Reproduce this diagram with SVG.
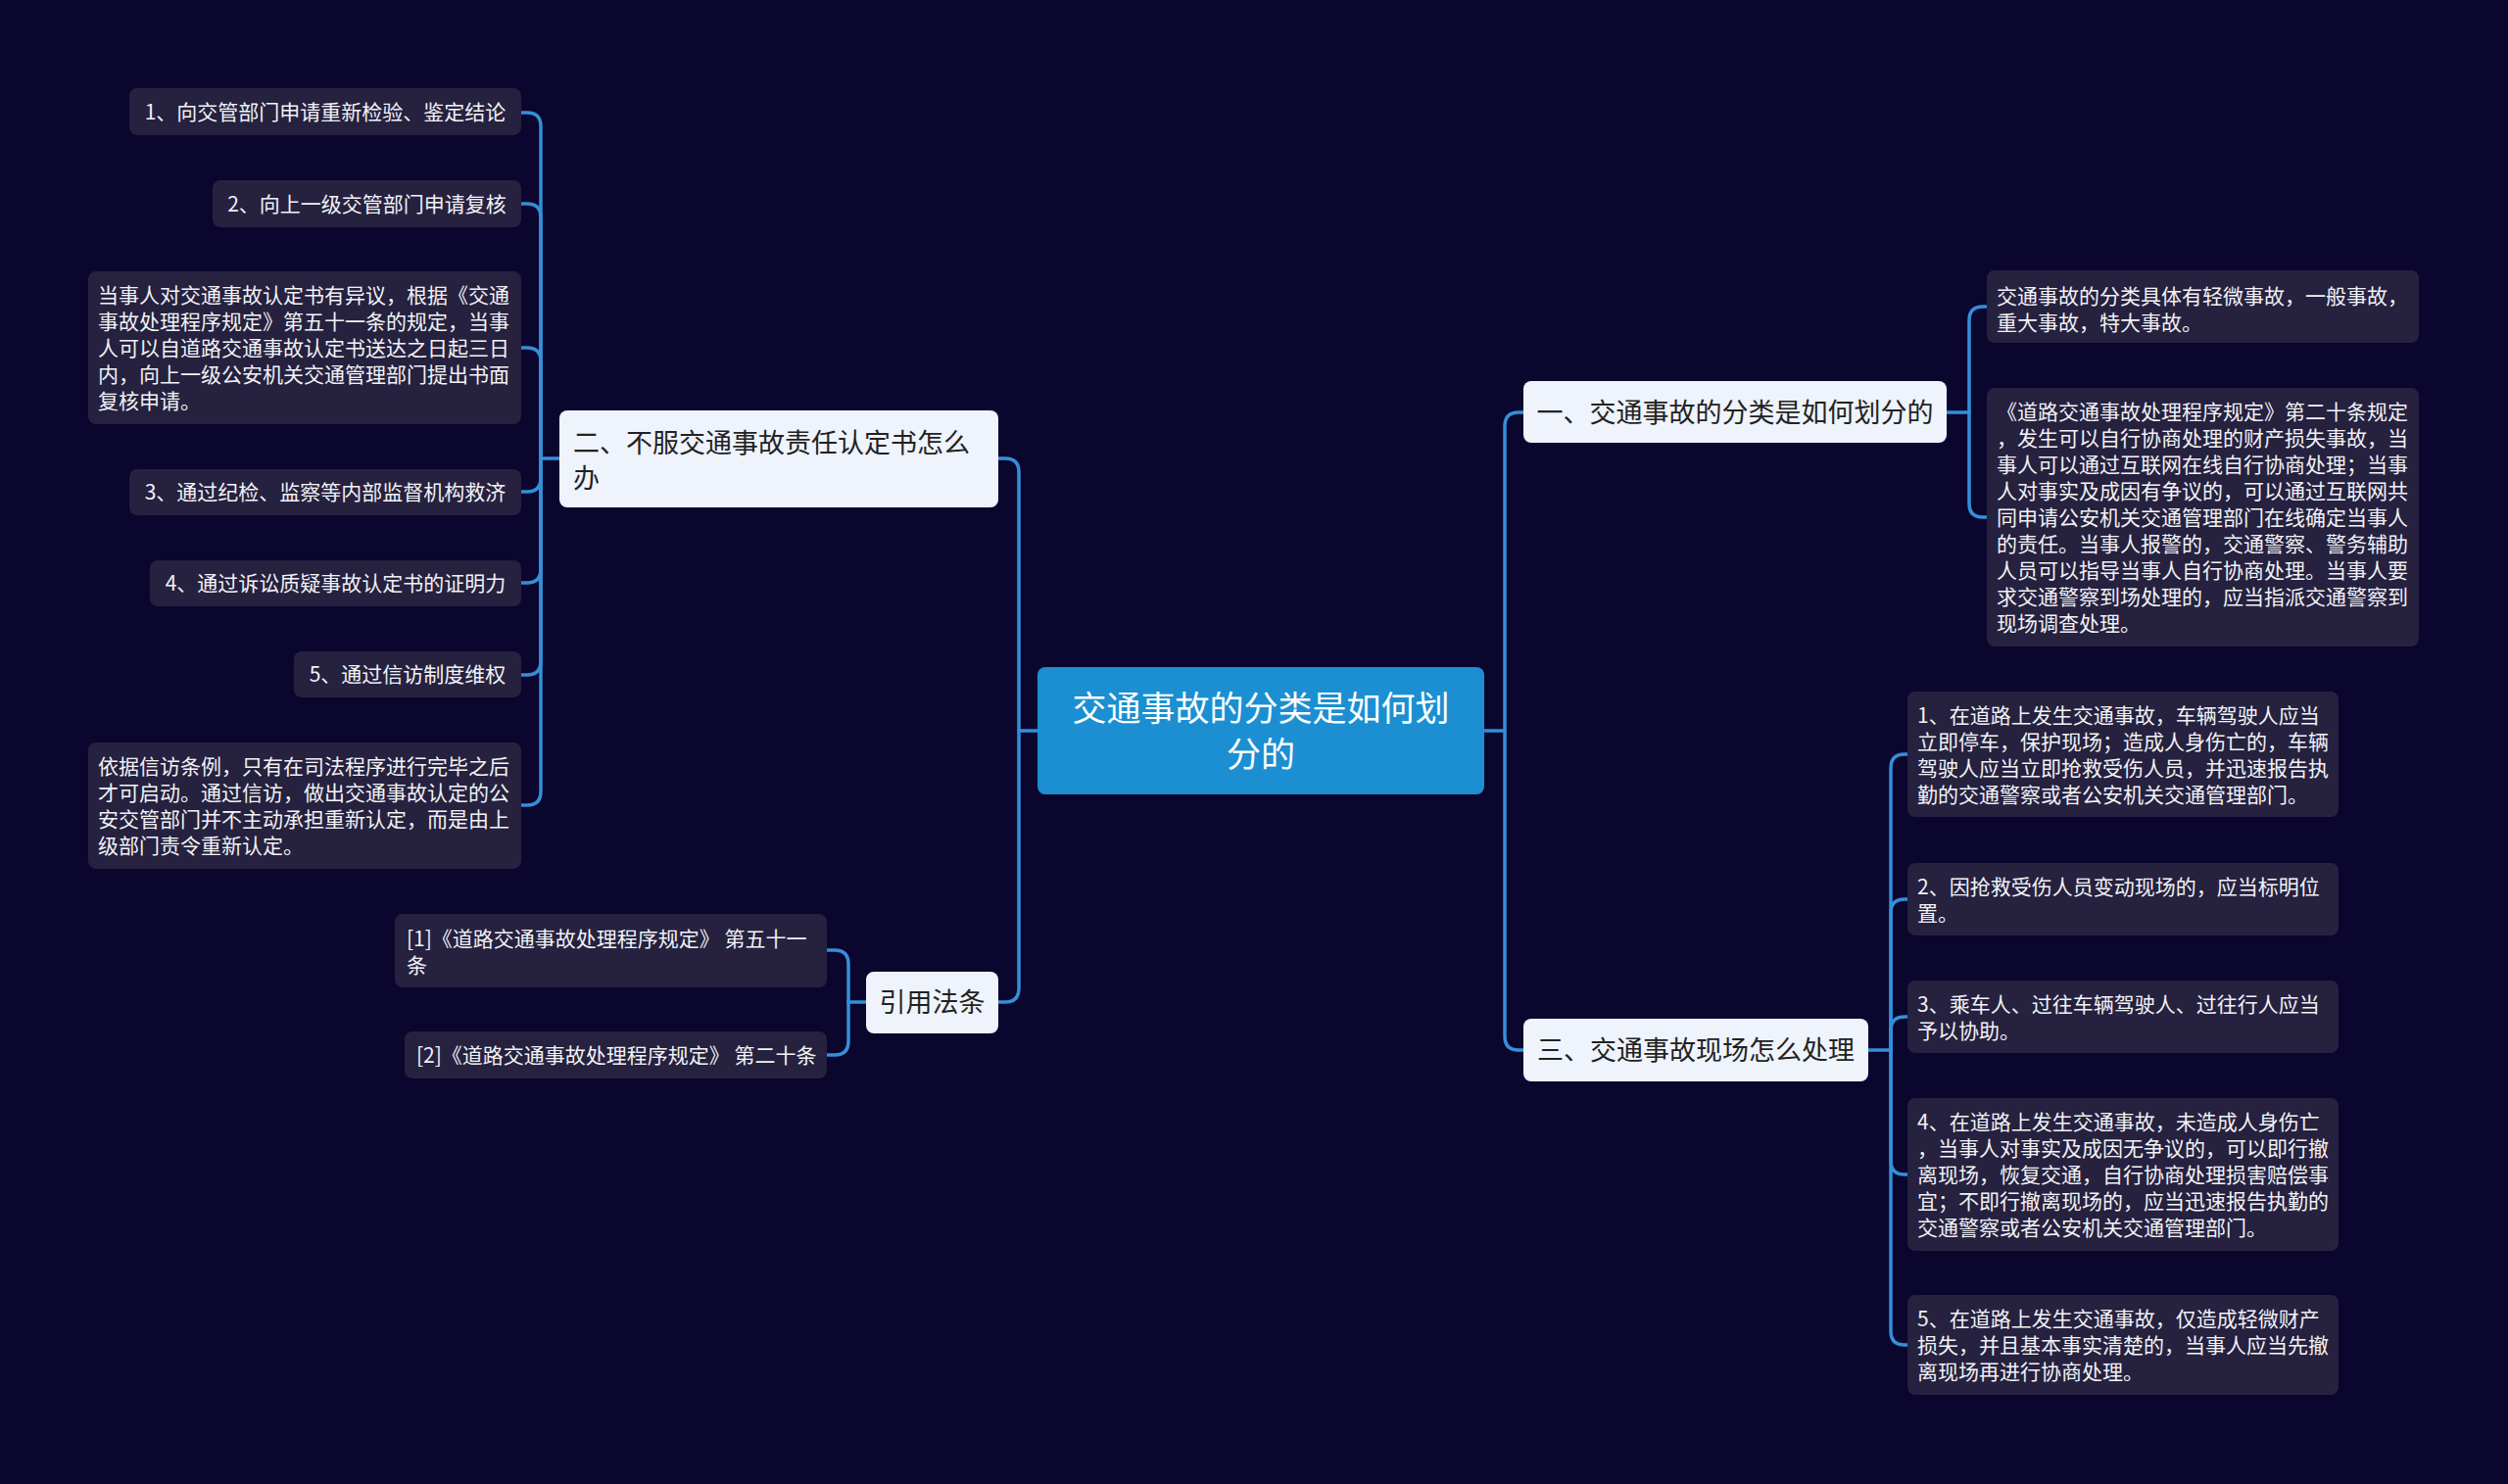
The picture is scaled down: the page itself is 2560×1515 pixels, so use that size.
<svg xmlns="http://www.w3.org/2000/svg" width="2560" height="1515" viewBox="0 0 2560 1515">
<style>
.bg{fill:#0b062e}
.leaf rect{fill:#25213f}
.leaf text{fill:#f2f2f5;font-family:"Noto Sans CJK SC","Noto Sans",sans-serif;font-size:21px}
.l1 rect{fill:#eef3fc}
.l1 text{fill:#222222;font-family:"Noto Sans CJK SC","Noto Sans",sans-serif;font-size:27px}
.root rect{fill:#1b8fd2}
.root text{fill:#ffffff;font-family:"Noto Sans CJK SC","Noto Sans",sans-serif;font-size:35px}
.mid{text-anchor:middle}
#connectors path{fill:none;stroke:#3390d8;stroke-width:3.5;stroke-linecap:round}
</style>
<rect class="bg" x="0" y="0" width="2560" height="1515"/>

<g id="connectors">
<path d="M571,468 H552"/>
<path d="M552,468 V129 Q552,115 538,115 H532"/>
<path d="M552,468 V222 Q552,208 538,208 H532"/>
<path d="M552,468 V369 Q552,355 538,355 H532"/>
<path d="M552,468 V488 Q552,502 538,502 H532"/>
<path d="M552,468 V581 Q552,595 538,595 H532"/>
<path d="M552,468 V675 Q552,689 538,689 H532"/>
<path d="M552,468 V808 Q552,822 538,822 H532"/>
<path d="M1059,746 H1040"/>
<path d="M1040,746 V482 Q1040,468 1026,468 H1019"/>
<path d="M1040,746 V1009 Q1040,1023 1026,1023 H1019"/>
<path d="M884,1023 H866"/>
<path d="M866,1023 V984 Q866,970 852,970 H844"/>
<path d="M866,1023 V1063 Q866,1077 852,1077 H844"/>
<path d="M1515,746 H1536"/>
<path d="M1536,746 V435 Q1536,421 1550,421 H1555"/>
<path d="M1536,746 V1058 Q1536,1072 1550,1072 H1555"/>
<path d="M1987,421 H2010"/>
<path d="M2010,421 V327 Q2010,313 2024,313 H2028"/>
<path d="M2010,421 V514 Q2010,528 2024,528 H2028"/>
<path d="M1907,1072 H1930"/>
<path d="M1930,1072 V784 Q1930,770 1944,770 H1947"/>
<path d="M1930,1072 V932 Q1930,918 1944,918 H1947"/>
<path d="M1930,1072 V1052 Q1930,1038 1944,1038 H1947"/>
<path d="M1930,1072 V1185 Q1930,1199 1944,1199 H1947"/>
<path d="M1930,1072 V1359 Q1930,1373 1944,1373 H1947"/>
</g>

<g id="root" class="root">
<rect x="1059" y="681" width="456" height="130" rx="8"/>
<text class="mid"><tspan x="1287" y="736">交通事故的分类是如何划</tspan><tspan x="1287" y="783">分的</tspan></text>
</g>

<g id="n2" class="l1">
<rect x="571" y="419" width="448" height="99" rx="8"/>
<text><tspan x="585" y="462">二、不服交通事故责任认定书怎么</tspan><tspan x="585" y="498">办</tspan></text>
</g>

<g id="a1" class="leaf">
<rect x="132" y="90" width="400" height="48" rx="8"/>
<text class="mid" x="332" y="122">1、向交管部门申请重新检验、鉴定结论</text>
</g>
<g id="a2" class="leaf">
<rect x="217" y="184" width="315" height="48" rx="8"/>
<text class="mid" x="374.5" y="215.5">2、向上一级交管部门申请复核</text>
</g>
<g id="a3" class="leaf">
<rect x="90" y="277" width="442" height="156" rx="8"/>
<text><tspan x="100" y="309">当事人对交通事故认定书有异议，根据《交通</tspan><tspan x="100" y="336">事故处理程序规定》第五十一条的规定，当事</tspan><tspan x="100" y="363">人可以自道路交通事故认定书送达之日起三日</tspan><tspan x="100" y="390">内，向上一级公安机关交通管理部门提出书面</tspan><tspan x="100" y="417">复核申请。</tspan></text>
</g>
<g id="a4" class="leaf">
<rect x="132" y="479" width="400" height="47" rx="8"/>
<text class="mid" x="332" y="510">3、通过纪检、监察等内部监督机构救济</text>
</g>
<g id="a5" class="leaf">
<rect x="153" y="572" width="379" height="47" rx="8"/>
<text class="mid" x="342.5" y="603">4、通过诉讼质疑事故认定书的证明力</text>
</g>
<g id="a6" class="leaf">
<rect x="300" y="665" width="232" height="47" rx="8"/>
<text class="mid" x="416" y="696">5、通过信访制度维权</text>
</g>
<g id="a7" class="leaf">
<rect x="90" y="758" width="442" height="129" rx="8"/>
<text><tspan x="100" y="789.5">依据信访条例，只有在司法程序进行完毕之后</tspan><tspan x="100" y="816.5">才可启动。通过信访，做出交通事故认定的公</tspan><tspan x="100" y="843.5">安交管部门并不主动承担重新认定，而是由上</tspan><tspan x="100" y="870.5">级部门责令重新认定。</tspan></text>
</g>

<g id="n4" class="l1">
<rect x="884" y="992" width="135" height="63" rx="8"/>
<text class="mid" x="951.5" y="1033">引用法条</text>
</g>
<g id="r1" class="leaf">
<rect x="403" y="933" width="441" height="75" rx="8"/>
<text><tspan x="415" y="965.5">[1]《道路交通事故处理程序规定》 第五十一</tspan><tspan x="415" y="992.5">条</tspan></text>
</g>
<g id="r2" class="leaf">
<rect x="413" y="1053" width="431" height="48" rx="8"/>
<text x="425" y="1084.5">[2]《道路交通事故处理程序规定》 第二十条</text>
</g>

<g id="n1" class="l1">
<rect x="1555" y="389" width="432" height="63" rx="8"/>
<text class="mid" x="1771" y="431">一、交通事故的分类是如何划分的</text>
</g>
<g id="b1" class="leaf">
<rect x="2028" y="276" width="441" height="74" rx="8"/>
<text><tspan x="2038" y="309.5">交通事故的分类具体有轻微事故，一般事故，</tspan><tspan x="2038" y="336.5">重大事故，特大事故。</tspan></text>
</g>
<g id="b2" class="leaf">
<rect x="2028" y="396" width="441" height="264" rx="8"/>
<text><tspan x="2038" y="427.5">《道路交通事故处理程序规定》第二十条规定</tspan><tspan x="2038" y="454.5">，发生可以自行协商处理的财产损失事故，当</tspan><tspan x="2038" y="481.5">事人可以通过互联网在线自行协商处理；当事</tspan><tspan x="2038" y="508.5">人对事实及成因有争议的，可以通过互联网共</tspan><tspan x="2038" y="535.5">同申请公安机关交通管理部门在线确定当事人</tspan><tspan x="2038" y="562.5">的责任。当事人报警的，交通警察、警务辅助</tspan><tspan x="2038" y="589.5">人员可以指导当事人自行协商处理。当事人要</tspan><tspan x="2038" y="616.5">求交通警察到场处理的，应当指派交通警察到</tspan><tspan x="2038" y="643.5">现场调查处理。</tspan></text>
</g>

<g id="n3" class="l1">
<rect x="1555" y="1040" width="352" height="64" rx="8"/>
<text class="mid" x="1731" y="1082">三、交通事故现场怎么处理</text>
</g>
<g id="c1" class="leaf">
<rect x="1947" y="706" width="440" height="128" rx="8"/>
<text><tspan x="1957" y="737.5">1、在道路上发生交通事故，车辆驾驶人应当</tspan><tspan x="1957" y="764.5">立即停车，保护现场；造成人身伤亡的，车辆</tspan><tspan x="1957" y="791.5">驾驶人应当立即抢救受伤人员，并迅速报告执</tspan><tspan x="1957" y="818.5">勤的交通警察或者公安机关交通管理部门。</tspan></text>
</g>
<g id="c2" class="leaf">
<rect x="1947" y="881" width="440" height="74" rx="8"/>
<text><tspan x="1957" y="912.5">2、因抢救受伤人员变动现场的，应当标明位</tspan><tspan x="1957" y="939.5">置。</tspan></text>
</g>
<g id="c3" class="leaf">
<rect x="1947" y="1001" width="440" height="74" rx="8"/>
<text><tspan x="1957" y="1032.5">3、乘车人、过往车辆驾驶人、过往行人应当</tspan><tspan x="1957" y="1059.5">予以协助。</tspan></text>
</g>
<g id="c4" class="leaf">
<rect x="1947" y="1121" width="440" height="156" rx="8"/>
<text><tspan x="1957" y="1152.5">4、在道路上发生交通事故，未造成人身伤亡</tspan><tspan x="1957" y="1179.5">，当事人对事实及成因无争议的，可以即行撤</tspan><tspan x="1957" y="1206.5">离现场，恢复交通，自行协商处理损害赔偿事</tspan><tspan x="1957" y="1233.5">宜；不即行撤离现场的，应当迅速报告执勤的</tspan><tspan x="1957" y="1260.5">交通警察或者公安机关交通管理部门。</tspan></text>
</g>
<g id="c5" class="leaf">
<rect x="1947" y="1322" width="440" height="102" rx="8"/>
<text><tspan x="1957" y="1354">5、在道路上发生交通事故，仅造成轻微财产</tspan><tspan x="1957" y="1381">损失，并且基本事实清楚的，当事人应当先撤</tspan><tspan x="1957" y="1408">离现场再进行协商处理。</tspan></text>
</g>
</svg>
